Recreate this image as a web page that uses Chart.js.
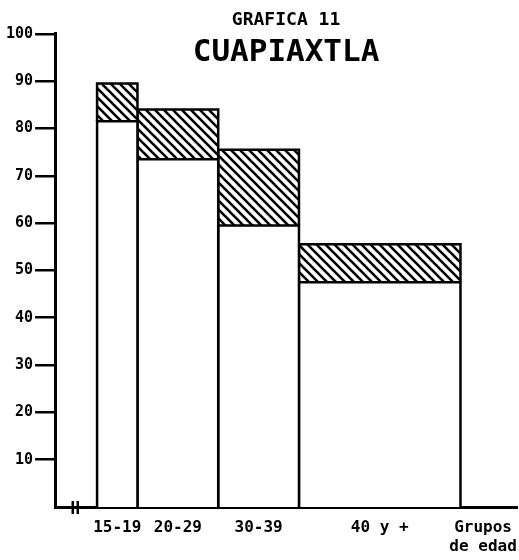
<!DOCTYPE html>
<html>
<head>
<meta charset="utf-8">
<script src="https://cdn.jsdelivr.net/npm/chart.js@4/dist/chart.umd.min.js"></script>
<style>
html, body { margin: 0; padding: 0; background: #fff; }
#caja { width: 519px; height: 560px; }
</style>
</head>
<body>
<div id="caja"><canvas id="grafica"></canvas></div>
<script>
// bordes de los grupos de edad (eje x) y porcentajes
var edades = [15, 20, 30, 40, 60];
var grupos = ['15-19', '20-29', '30-39', '40 y +'];
var blanco = [81.5, 73.5, 59.5, 47.5];
var total = [89.5, 84, 75.5, 55.5];
var finEje = ['Grupos', 'de edad'];

var fuente = "'DejaVu Sans Mono', monospace";

function rayado() {
	var s = 9;
	var c = document.createElement('canvas');
	c.width = s; c.height = s;
	var g = c.getContext('2d');
	g.fillStyle = '#fff';
	g.fillRect(0, 0, s, s);
	g.strokeStyle = '#000';
	g.lineWidth = 2.6;
	[-s, 0, s].forEach(function(k) {
		g.beginPath();
		g.moveTo(-2, k - 2);
		g.lineTo(s + 2, k + s + 2);
		g.stroke();
	});
	return g.createPattern(c, 'repeat');
}

function grafica() {
	var canvas = document.getElementById('grafica');
	var patron = rayado();
	var datasets = [];
	var centros = [];

	for (var i = 0; i < grupos.length; i++) {
		var a = edades[i], b = edades[i + 1];
		centros.push((a + b) / 2);
		datasets.push({
			data: [{x: a, y: 0}, {x: a, y: blanco[i]}, {x: b, y: blanco[i]}, {x: b, y: 0}],
			borderColor: '#000',
			borderWidth: 2.5,
			backgroundColor: '#fff',
			fill: 'origin'
		});
		datasets.push({
			data: [{x: a, y: blanco[i]}, {x: a, y: total[i]}, {x: b, y: total[i]}, {x: b, y: blanco[i]}],
			borderColor: '#000',
			borderWidth: 2.5,
			backgroundColor: patron,
			fill: {value: blanco[i]}
		});
	}
	var etiquetas = grupos.concat([finEje]);
	centros.push(62.8);

	// marca de corte en el eje x
	var corte = {
		id: 'corte',
		afterDraw: function(chart) {
			var x = chart.scales.x, y = chart.scales.y;
			var ctx = chart.ctx;
			var px = x.getPixelForValue(12.3);
			var py = y.getPixelForValue(0);
			ctx.save();
			ctx.strokeStyle = '#000';
			ctx.lineWidth = 2.5;
			[-2.5, 2.5].forEach(function(d) {
				ctx.beginPath();
				ctx.moveTo(px + d, py - 6);
				ctx.lineTo(px + d, py + 7);
				ctx.stroke();
			});
			ctx.restore();
		}
	};

	new Chart(canvas, {
		type: 'line',
		data: {datasets: datasets},
		options: {
			responsive: true,
			maintainAspectRatio: false,
			animation: false,
			elements: {point: {radius: 0, hoverRadius: 0}, line: {tension: 0}},
			layout: {padding: {left: 4, right: 2, bottom: 0}},
			plugins: {
				legend: {display: false},
				tooltip: {enabled: false},
				title: {
					display: true,
					text: 'GRAFICA 11',
					fullSize: false,
					color: '#000',
					font: {family: fuente, size: 18, weight: 'bold'},
					padding: {top: 10, bottom: 0}
				},
				subtitle: {
					display: true,
					text: 'CUAPIAXTLA',
					fullSize: false,
					color: '#000',
					font: {family: fuente, size: 31, weight: 'bold'},
					padding: {top: 3, bottom: -38}
				}
			},
			scales: {
				x: {
					type: 'linear',
					min: 9.8,
					max: 67,
					border: {color: '#000', width: 3},
					grid: {display: false, drawTicks: false},
					afterBuildTicks: function(scale) {
						scale.ticks = centros.map(function(v) { return {value: v}; });
					},
					afterFit: function(scale) {
						scale.paddingRight = 0;
						scale.height = 53;
					},
					ticks: {
						autoSkip: false,
						maxRotation: 0,
						color: '#000',
						padding: 12,
						font: {family: fuente, size: 16, weight: 'bold', lineHeight: 1.15},
						callback: function(v, i) { return etiquetas[i]; }
					}
				},
				y: {
					min: 0,
					max: 100,
					border: {color: '#000', width: 3},
					grid: {
						drawOnChartArea: false,
						tickLength: 20,
						lineWidth: 2.5,
						color: function(c) { return c.tick && c.tick.value === 0 ? 'rgba(0,0,0,0)' : '#000'; }
					},
					ticks: {
						stepSize: 10,
						color: '#000',
						padding: 2,
						font: {family: fuente, size: 15, weight: 'bold'},
						callback: function(v) { return v === 0 ? '' : v; }
					}
				}
			}
		},
		plugins: [corte]
	});
}

grafica();
</script>
</body>
</html>
